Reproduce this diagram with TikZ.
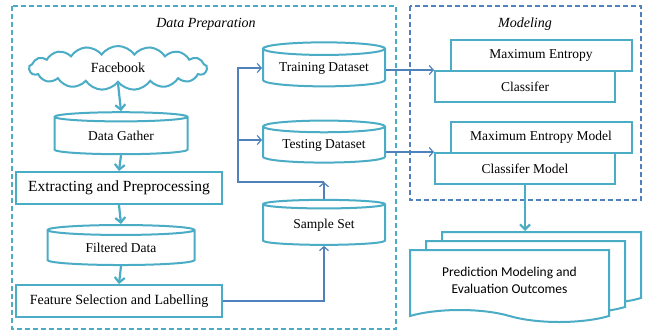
\documentclass[tikz,border=0pt]{standalone}
\usepackage{fontspec}
\setmainfont{Liberation Serif}
\newfontfamily\calibri{Carlito}
\usepackage{tikz}
\usetikzlibrary{
  shapes.geometric,
  shapes.symbols,
  arrows.meta,
  positioning,
  calc
}
\definecolor{aqua}{RGB}{75,172,198}
\definecolor{steel}{RGB}{79,129,189}
\tikzset{
  flow/.style     = {-{Straight Barb[length=5pt,width=10pt]}, line width=2.2pt, aqua},
  link/.style     = {-{Straight Barb[length=4pt,width=9pt]}, line width=1.2pt, steel},
  stage/.style    = {draw, dashed, line width=1.6pt, dash pattern=on 5pt off 3pt},
  db/.style       = {draw=aqua, line width=2pt, fill=white, cylinder,
                     shape border rotate=90, aspect=0.14,
                     inner sep=0pt, font=\fontsize{13.5}{15}\selectfont},
  procbox/.style  = {draw=aqua, line width=2pt, fill=white, inner sep=0pt,
                     minimum width=206pt, minimum height=32pt},
  modbox/.style   = {draw=aqua, line width=2pt, fill=white, inner sep=0pt,
                     minimum width=181pt, minimum height=31pt,
                     font=\fontsize{13.5}{15}\selectfont},
  doc/.style      = {draw=aqua, line width=2pt, fill=white, tape,
                     tape bend top=none, tape bend bottom=out and in,
                     tape bend height=12pt, inner sep=0pt,
                     minimum width=199pt, minimum height=72pt},
}

\begin{document}
\begin{tikzpicture}[x=1pt, y=-1pt]
    \useasboundingbox (0,0) rectangle (645,330);

    % Stage frames
    \draw[stage, aqua] (12,6) rectangle (396,329);
    \draw[stage, steel] (410,6) rectangle (641,200);
    \node[font=\fontsize{14}{16}\selectfont\itshape] (preptitle) at (206,24) {Data Preparation};
    \node[font=\fontsize{14}{16}\selectfont\itshape] (modtitle) at (525,24) {Modeling};

    % Data preparation chain
    \node[draw=aqua, line width=2pt, fill=white, cloud, cloud puffs=17, cloud puff arc=110,
          aspect=3.6, minimum width=178pt, minimum height=44pt, inner sep=0pt,
          font=\fontsize{14}{16}\selectfont] (fb) at (118,68) {Facebook};
    \node[db, minimum width=133pt, minimum height=42pt] (gather) at (121,136) {Data Gather};
    \node[procbox, font=\fontsize{15.5}{17}\selectfont] (extract) at (119,188) {Extracting and Preprocessing};
    \node[db, minimum width=147pt, minimum height=40pt] (filtered) at (121,248) {Filtered Data};
    \node[procbox, font=\fontsize{14}{16}\selectfont] (feature) at (119,301) {Feature Selection and Labelling};

    \draw[flow] (fb.south) -- (gather.north);
    \draw[flow] (gather.south) -- (extract.north);
    \draw[flow] (extract.south) -- (filtered.north);
    \draw[flow] (filtered.south) -- (feature.north);

    % Datasets
    \node[db, minimum width=122pt, minimum height=44pt] (train) at (324,68) {Training Dataset};
    \node[db, minimum width=122pt, minimum height=42pt] (test) at (324,145) {Testing Dataset};
    \node[db, minimum width=122pt, minimum height=45pt] (sample) at (324,225) {Sample Set};
    \coordinate (split) at (238,182);

    \draw[link] (feature.east) -| (sample.south);
    \draw[link] (sample.north) -- (sample.north |- split);
    \draw[link] (sample.north |- split) -- (split) |- (train.west);
    \draw[link] ([yshift=5pt]split |- test.west) -- ([yshift=5pt]test.west);

    % Modeling
    \node[modbox] (me1) at (541,55) {Maximum Entropy};
    \node[modbox, minimum width=180pt] (cl1) at (525,86.5) {Classifer};
    \node[modbox] (me2) at (541,137.5) {Maximum Entropy Model};
    \node[modbox, minimum width=180pt] (cl2) at (525,168.5) {Classifer Model};

    \draw[link] (train.east |- cl1.north) -- (cl1.north west);
    \draw[link] (test.east |- cl2.north) -- (cl2.north west);

    % Outcomes
    \node[doc] (docback) at (541.5,262) {};
    \node[doc] (docmid) at (525.5,271) {};
    \node[doc, align=center, font=\calibri\fontsize{13.5}{17}\selectfont] (docfront) at (509.5,280)
        {Prediction Modeling and\\Evaluation Outcomes};

    \draw[flow] (cl2.south) -- (cl2.south |- docback.north);

\end{tikzpicture}
\end{document}
